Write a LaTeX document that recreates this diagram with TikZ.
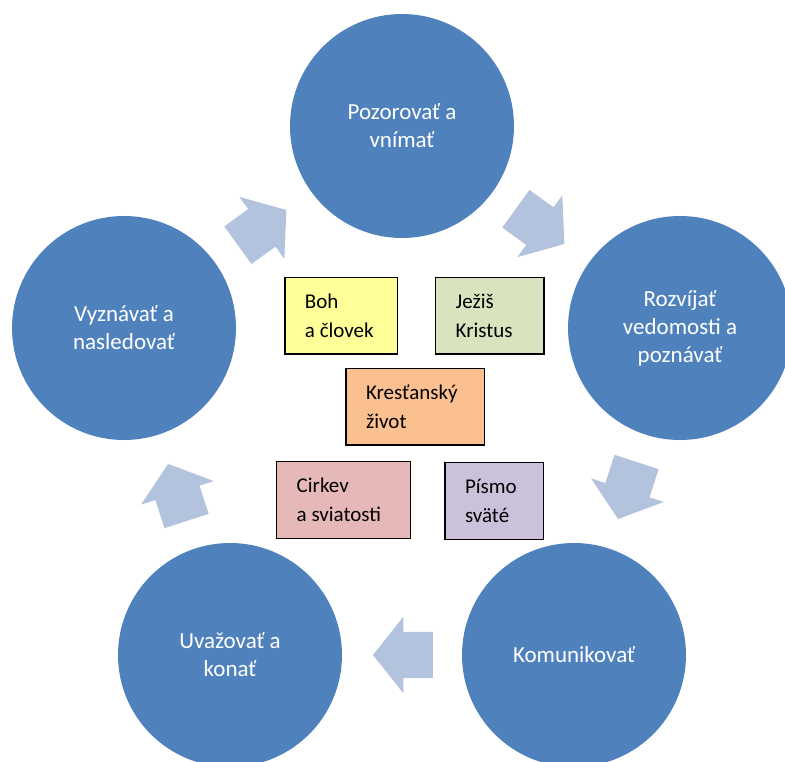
\documentclass[tikz,border=0pt]{standalone}
\usepackage{fontspec}
\setmainfont{Carlito}
\usetikzlibrary{shapes.arrows}

\definecolor{circblue}{RGB}{79,129,189}
\definecolor{arrowblue}{RGB}{179,195,222}
\definecolor{bohyellow}{RGB}{255,255,153}
\definecolor{jezisgreen}{RGB}{215,228,189}
\definecolor{krestorange}{RGB}{250,192,144}
\definecolor{cirkevpink}{RGB}{230,185,184}
\definecolor{pismolilac}{RGB}{204,193,218}

\begin{document}
\begin{tikzpicture}[x=1pt,y=-1pt,
	stage/.style={circle,fill=circblue,text=white,minimum size=224pt,inner sep=0pt,
		align=center,font=\fontsize{23}{28}\selectfont},
	flow/.style={single arrow,fill=arrowblue,draw=none,sloped,allow upside down,
		pos=0.745,anchor=tip,
		minimum height=60pt,inner xsep=0pt,inner ysep=23pt,single arrow head extend=15pt,
		single arrow tip angle=103},
	topic/.style={draw=black,line width=1.3pt,minimum height=76.7pt,inner xsep=20pt,
		inner ysep=0pt,align=flush left,font=\fontsize{21}{29.5}\selectfont}]
\useasboundingbox (0,0) rectangle (785,762);

% the five stages of the cycle
\node[stage] (pozorovat) at (402,126) {Pozorovať a\\vnímať};
\node[stage] (rozvijat) at (680,328) {Rozvíjať\\vedomosti a\\poznávať};
\node[stage] (komunikovat) at (574,655) {Komunikovať};
\node[stage] (uvazovat) at (230,655) {Uvažovať a\\konať};
\node[stage] (vyznavat) at (124,328) {Vyznávať a\\nasledovať};

% arrows between the stages
\path (vyznavat) -- node[flow] {} (pozorovat);
\path (pozorovat) -- node[flow] {} (rozvijat);
\path (rozvijat) -- node[flow] {} (komunikovat);
\path (komunikovat) -- node[flow] {} (uvazovat);
\path (uvazovat) -- node[flow] {} (vyznavat);

% topics in the middle
\node[topic,fill=bohyellow,text width=72.7pt] (boh) at (341.3,315.7) {Boh\\a človek};
\node[topic,fill=jezisgreen,text width=68.3pt] (jezis) at (489.8,315.7) {Ježiš\\Kristus};
\node[topic,fill=krestorange,text width=98.3pt] (krest) at (415.2,406.7) {Kresťanský\\život};
\node[topic,fill=cirkevpink,text width=93.6pt] (cirkev) at (343.5,500) {Cirkev\\a sviatosti};
\node[topic,fill=pismolilac,text width=58.3pt] (pismo) at (494.2,501) {Písmo\\sväté};

\end{tikzpicture}
\end{document}
